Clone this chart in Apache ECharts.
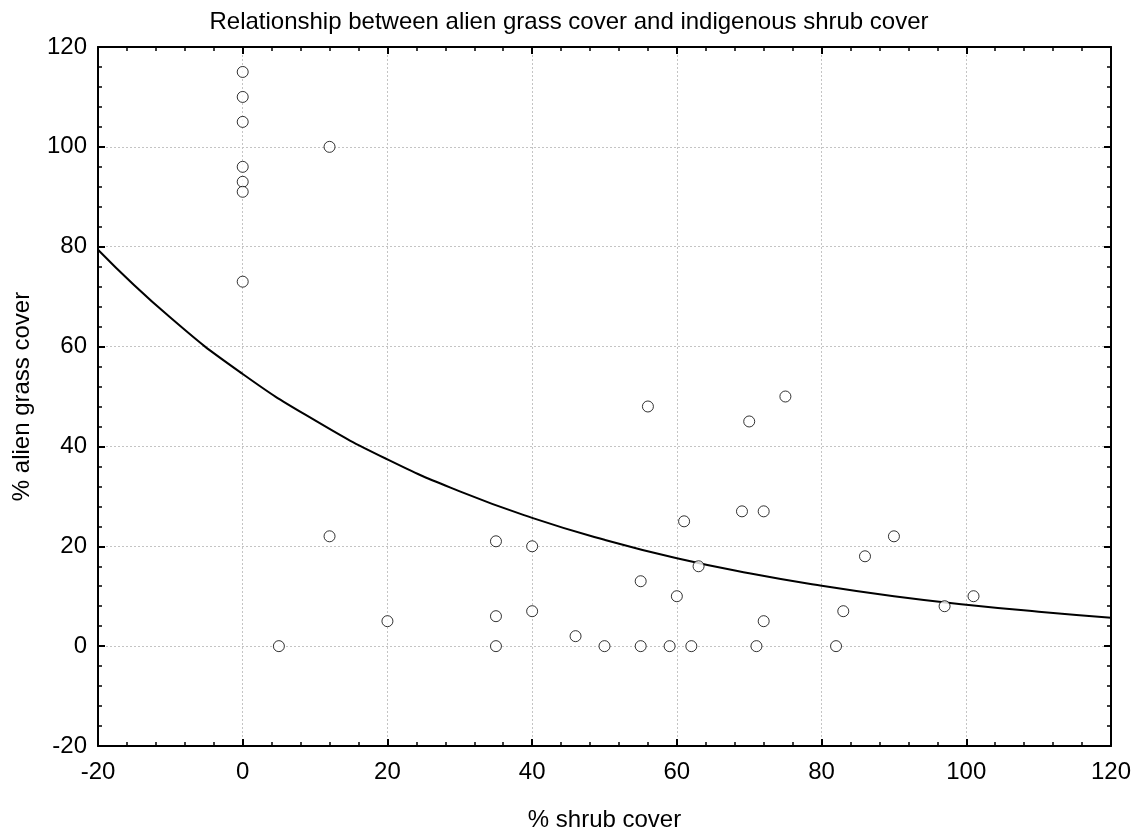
<!DOCTYPE html>
<html>
<head>
<meta charset="utf-8">
<script src="https://cdn.jsdelivr.net/npm/echarts@6/dist/echarts.min.js"></script>
<style>
  html, body { margin: 0; padding: 0; background: #fff; }
  #chart { width: 1138px; height: 836px; }
</style>
</head>
<body>
<div id="chart"></div>
<script>
// observed points: [% shrub cover, % alien grass cover]
const points = [
  [0, 115], [0, 110], [0, 105], [0, 96], [0, 93], [0, 91], [0, 73],
  [12, 100], [12, 22], [5, 0], [20, 5],
  [35, 21], [35, 6], [35, 0], [40, 20], [40, 7], [46, 2], [50, 0],
  [55, 13], [55, 0], [56, 48], [59, 0], [60, 10], [61, 25], [62, 0], [63, 16],
  [69, 27], [70, 45], [71, 0], [72, 27], [72, 5], [75, 50],
  [82, 0], [83, 7], [86, 18], [90, 22], [97, 8], [101, 10]
]

// fitted curve, every 10 units
const curveX = [-20, -10, 0, 10, 20, 30, 40, 50, 60, 70, 80, 90, 100, 110, 120]
const curveY = [79.4, 65.8, 54.5, 45.2, 37.4, 31.0, 25.7, 21.3, 17.6, 14.6, 12.1, 10.0, 8.3, 6.9, 5.7]

const font = "'Liberation Sans', Arial, sans-serif"
const textSize = 24

function frameAxis(extra) {
  return Object.assign({
    type: "value",
    min: -20,
    max: 120,
    interval: 20,
    axisLine: { show: true, onZero: false, lineStyle: { color: "#000", width: 2 } },
    axisTick: { show: true, inside: true, length: 7, lineStyle: { color: "#000", width: 2 } },
    minorTick: { show: true, splitNumber: 5, length: 4, lineStyle: { color: "#000", width: 1.5 } },
    splitLine: { show: false },
    axisLabel: { show: false }
  }, extra)
}

const gridDots = { show: true, lineStyle: { color: "#c4c4c4", type: [2, 2], width: 1 } }

const chart = echarts.init(document.getElementById("chart"))

chart.setOption({
  animation: false,
  backgroundColor: "#fff",
  title: {
    text: "Relationship between alien grass cover and indigenous shrub cover",
    left: "center",
    top: 5,
    textStyle: { fontFamily: font, fontSize: textSize, fontWeight: "normal", color: "#000" }
  },
  grid: { left: 98, right: 27, top: 47, bottom: 90, containLabel: false, outerBoundsMode: "none" },
  xAxis: [
    frameAxis({
      position: "bottom",
      name: "% shrub cover",
      nameLocation: "middle",
      nameGap: 62,
      nameTextStyle: { fontFamily: font, fontSize: textSize, color: "#000" },
      splitLine: gridDots,
      axisLabel: { show: true, margin: 14, fontFamily: font, fontSize: textSize, color: "#000" }
    }),
    frameAxis({ position: "top" })
  ],
  yAxis: [
    frameAxis({
      position: "left",
      name: "% alien grass cover",
      nameLocation: "middle",
      nameGap: 64,
      nameTextStyle: { fontFamily: font, fontSize: textSize, color: "#000" },
      splitLine: gridDots,
      axisLabel: { show: true, margin: 11, fontFamily: font, fontSize: textSize, color: "#000" }
    }),
    frameAxis({ position: "right" })
  ],
  series: [
    {
      name: "fit",
      type: "line",
      data: curveX.map((x, i) => [x, curveY[i]]),
      smooth: true,
      showSymbol: false,
      lineStyle: { color: "#000", width: 2 },
      z: 2
    },
    {
      name: "points",
      type: "scatter",
      data: points,
      symbol: "circle",
      symbolSize: 11,
      itemStyle: { color: "#fff", borderColor: "#000", borderWidth: 1 },
      z: 3
    }
  ]
})
</script>
</body>
</html>
